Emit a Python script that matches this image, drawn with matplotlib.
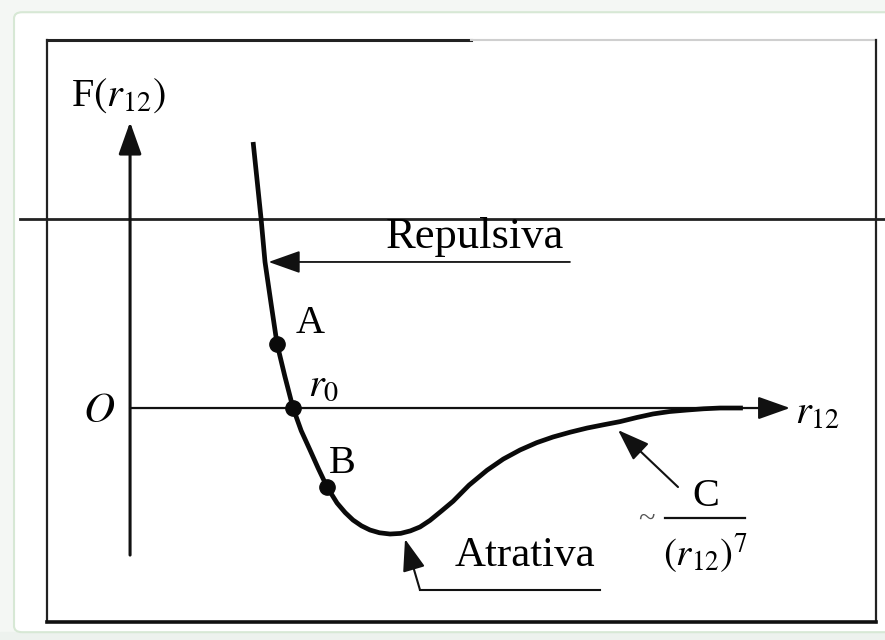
import matplotlib.pyplot as plt
from matplotlib.patches import FancyBboxPatch, Rectangle

plt.rcParams['font.family'] = ['Liberation Serif', 'DejaVu Serif']
plt.rcParams['mathtext.fontset'] = 'stix'

# force curve F(r12), r in units of r0, F in units of |F_min|
r = [0.755, 0.780, 0.804, 0.828, 0.865, 0.902, 0.950, 1.000, 1.050, 1.104,
     1.155, 1.209, 1.270, 1.320, 1.368, 1.420, 1.472, 1.530, 1.595, 1.660,
     1.720, 1.779, 1.840, 1.910, 1.982, 2.080, 2.190, 2.290, 2.393, 2.495,
     2.595, 2.700, 2.804, 2.905, 3.006, 3.110, 3.209, 3.310, 3.417, 3.520,
     3.620, 3.760]
F = [2.111, 1.800, 1.500, 1.159, 0.830, 0.508, 0.250, 0.000, -0.180, -0.333,
     -0.480, -0.627, -0.754, -0.830, -0.889, -0.935, -0.968, -0.990, -1.000, -0.995,
     -0.975, -0.944, -0.892, -0.818, -0.740, -0.612, -0.494, -0.405, -0.333, -0.275,
     -0.230, -0.192, -0.159, -0.133, -0.108, -0.075, -0.047, -0.028, -0.016, -0.006,
     0.000, 0.000]

# marked points A, r0, B
pts_r = [0.902, 1.000, 1.209]
pts_F = [0.508, 0.000, -0.627]

fig = plt.figure(figsize=(8.85, 6.4), dpi=100)
fig.patch.set_facecolor('#f4f7f4')
ax = fig.add_axes([0, 0, 1, 1])
ax.set_xlim(-0.798, 4.632)
ax.set_ylim(-1.841, 3.238)
ax.axis('off')

# page background and frame
ax.add_patch(Rectangle((-0.798, -1.841), 5.43, 0.06, color='#edf2ee', zorder=0))
ax.add_patch(FancyBboxPatch((-0.712, -1.779), 5.45, 4.92,
                            boxstyle='round,pad=0,rounding_size=0.05',
                            fc='white', ec='#d7e8d5', lw=1.5, zorder=0))

ax.plot([-0.509, 2.09], [2.921, 2.921], color='#222222', lw=2.2, zorder=1)
ax.plot([2.09, 4.577], [2.921, 2.921], color='#cfcfcf', lw=1.5, zorder=1)
ax.plot([-0.509, -0.509], [2.921, -1.698], color='#222222', lw=1.6, zorder=1)
ax.plot([4.577, 4.577], [2.921, -1.698], color='#222222', lw=1.6, zorder=1)
ax.plot([-0.509, 4.577], [-1.698, -1.698], color='#111111', lw=2.6, zorder=1)

# horizontal line across the page
ax.plot([-0.675, 4.632], [1.5, 1.5], color='#222222', lw=2.0, zorder=1)

# axes with arrows
arrow_kw = dict(arrowstyle='-|>,head_length=0.9,head_width=0.32', color='#111111',
                shrinkA=0, shrinkB=0, mutation_scale=22)
ax.annotate('', xy=(0, 2.27), xytext=(0, -1.167),
            arrowprops=dict(lw=2.2, **arrow_kw))
ax.annotate('', xy=(4.049, 0), xytext=(0, 0),
            arrowprops=dict(lw=1.6, **arrow_kw))

# curve and points
ax.plot(r, F, color='#0a0a0a', lw=3.4, solid_capstyle='butt',
        solid_joinstyle='round', zorder=3)
ax.plot(pts_r, pts_F, 'o', color='#0a0a0a', ms=11, zorder=4)

# labels
ax.text(-0.07, 2.48, r'F$(r_{12})$', fontsize=29, ha='center', va='center')
ax.text(-0.19, -0.03, r'$O$', fontsize=31, ha='center', va='center')
ax.text(4.22, -0.05, r'$r_{12}$', fontsize=29, ha='center', va='center')
ax.text(1.105, 0.67, 'A', fontsize=29, ha='center', va='center')
ax.text(1.19, 0.17, r'$r_0$', fontsize=29, ha='center', va='center')
ax.text(1.30, -0.44, 'B', fontsize=29, ha='center', va='center')

# repulsive arrow
ax.text(2.117, 1.36, 'Repulsiva', fontsize=32, ha='center', va='center')
ax.annotate('', xy=(0.85, 1.159), xytext=(2.699, 1.159),
            arrowprops=dict(lw=1.3, **arrow_kw))

# attractive arrow
ax.text(2.423, -1.17, 'Atrativa', fontsize=31, ha='center', va='center')
ax.plot([2.883, 1.779], [-1.444, -1.444], color='#111111', lw=1.5)
ax.annotate('', xy=(1.687, -1.04), xytext=(1.779, -1.444),
            arrowprops=dict(lw=1.5, **arrow_kw))

# long-range tail ~ C / r^7
ax.annotate('', xy=(2.994, -0.175), xytext=(3.362, -0.627),
            arrowprops=dict(lw=1.5, **arrow_kw))
ax.text(3.17, -0.88, '~', fontsize=22, ha='center', va='center', color='#555555')
ax.text(3.531, -0.70, 'C', fontsize=29, ha='center', va='center')
ax.plot([3.282, 3.773], [-0.873, -0.873], color='#111111', lw=1.6)
ax.text(3.531, -1.16, r'$(r_{12})^7$', fontsize=28, ha='center', va='center')

fig.savefig('out.png', dpi=100)
